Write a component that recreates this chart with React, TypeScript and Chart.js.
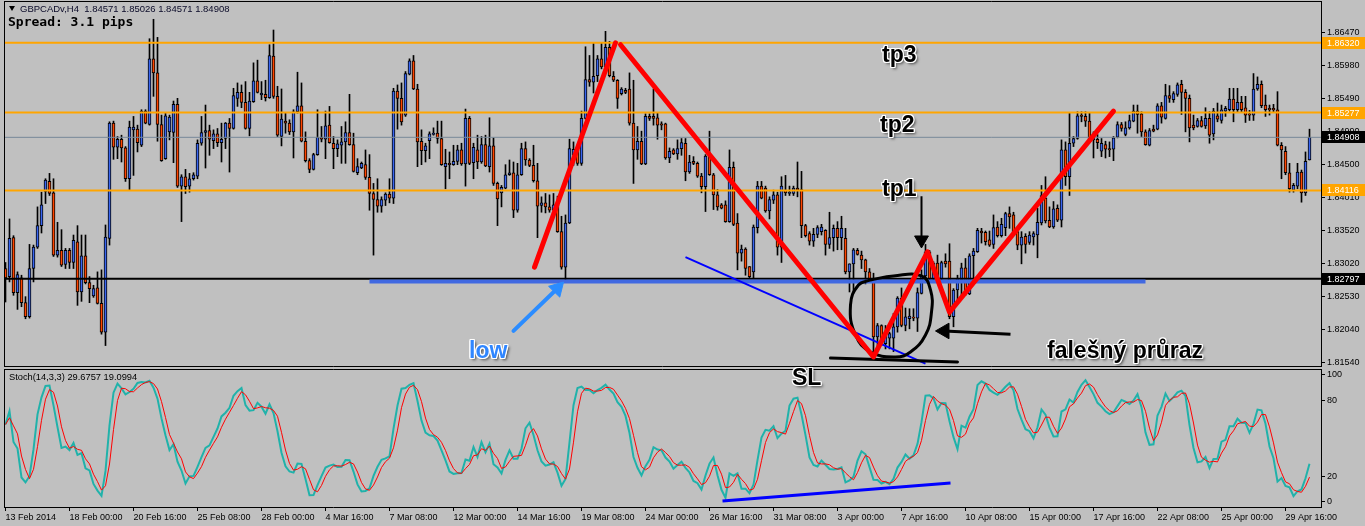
import React, { useEffect, useRef } from "react";
import { Chart, registerables } from "chart.js";
Chart.register(...registerables);

// ---- GBPCADv, H4 candles (13 Feb 2014 -> 29 Apr 2014) ----
const OPEN = [
1.8295,1.8283,1.8341,1.8259,1.8281,1.8244,1.8223,1.8295,1.8327,1.8359,
1.8410,1.8425,1.8408,1.8315,1.8322,1.8301,1.8322,1.8304,1.8335,1.8260,
1.8314,1.8274,1.8254,1.8266,1.8243,1.8200,1.8340,1.8512,1.8476,1.8488,
1.8475,1.8429,1.8502,1.8503,1.8479,1.8530,1.8510,1.8608,1.8587,1.8510,
1.8459,1.8499,1.8498,1.8540,1.8418,1.8432,1.8418,1.8429,1.8433,1.8482,
1.8498,1.8501,1.8486,1.8496,1.8483,1.8489,1.8512,1.8504,1.8549,1.8558,
1.8543,1.8504,1.8544,1.8575,1.8554,1.8555,1.8550,1.8612,1.8552,1.8492,
1.8515,1.8512,1.8499,1.8529,1.8538,1.8485,1.8456,1.8443,1.8465,1.8491,
1.8488,1.8509,1.8482,1.8474,1.8479,1.8484,1.8498,1.8480,1.8438,1.8445,
1.8450,1.8431,1.8407,1.8398,1.8388,1.8397,1.8406,1.8400,1.8560,1.8549,
1.8524,1.8585,1.8605,1.8563,1.8485,1.8471,1.8486,1.8495,1.8497,1.8489,
1.8447,1.8452,1.8450,1.8455,1.8472,1.8451,1.8519,1.8453,1.8472,1.8454,
1.8480,1.8447,1.8478,1.8422,1.8408,1.8415,1.8435,1.8438,1.8382,1.8435,
1.8474,1.8457,1.8449,1.8426,1.8389,1.8393,1.8387,1.8382,1.8390,1.8350,
1.8297,1.8363,1.8464,1.8472,1.8452,1.8519,1.8577,1.8573,1.8583,1.8608,
1.8596,1.8625,1.8582,1.8576,1.8556,1.8561,1.8563,1.8512,1.8472,1.8485,
1.8451,1.8522,1.8522,1.8520,1.8511,1.8511,1.8460,1.8472,1.8466,1.8474,
1.8482,1.8439,1.8455,1.8452,1.8433,1.8417,1.8463,1.8435,1.8405,1.8390,
1.8390,1.8365,1.8446,1.8363,1.8318,1.8324,1.8298,1.8290,1.8356,1.8418,
1.8415,1.8381,1.8397,1.8405,1.8327,1.8412,1.8407,1.8407,1.8415,1.8413,
1.8359,1.8347,1.8336,1.8346,1.8350,1.8352,1.8331,1.8341,1.8355,1.8341,
1.8340,1.8290,1.8302,1.8322,1.8315,1.8308,1.8290,1.8280,1.8193,1.8210,
1.8183,1.8191,1.8191,1.8208,1.8251,1.8210,1.8220,1.8222,1.8221,1.8258,
1.8284,1.8320,1.8280,1.8303,1.8280,1.8306,1.8306,1.8223,1.8263,1.8278,
1.8296,1.8257,1.8314,1.8320,1.8351,1.8349,1.8338,1.8331,1.8357,1.8344,
1.8356,1.8377,1.8375,1.8350,1.8330,1.8343,1.8334,1.8342,1.8345,1.8363,
1.8400,1.8367,1.8357,1.8385,1.8367,1.8472,1.8432,1.8482,1.8489,1.8524,
1.8522,1.8515,1.8487,1.8488,1.8470,1.8480,1.8474,1.8473,1.8491,1.8510,
1.8495,1.8505,1.8515,1.8530,1.8526,1.8499,1.8479,1.8503,1.8503,1.8538,
1.8519,1.8553,1.8547,1.8555,1.8570,1.8558,1.8549,1.8509,1.8507,1.8516,
1.8508,1.8519,1.8496,1.8523,1.8516,1.8530,1.8532,1.8548,1.8532,1.8543,
1.8535,1.8526,1.8524,1.8563,1.8570,1.8539,1.8534,1.8534,1.8532,1.8479,
1.8470,1.8438,1.8412,1.8418,1.8439,1.8408,1.8457
];
const HIGH = [
1.8304,1.8369,1.8344,1.8290,1.8285,1.8253,1.8331,1.8330,1.8387,1.8409,
1.8429,1.8437,1.8429,1.8364,1.8353,1.8325,1.8325,1.8345,1.8359,1.8345,
1.8345,1.8283,1.8270,1.8290,1.8293,1.8360,1.8514,1.8515,1.8492,1.8494,
1.8477,1.8515,1.8522,1.8509,1.8532,1.8532,1.8638,1.8667,1.8640,1.8524,
1.8527,1.8524,1.8545,1.8549,1.8435,1.8443,1.8437,1.8438,1.8487,1.8522,
1.8539,1.8509,1.8502,1.8504,1.8512,1.8513,1.8519,1.8564,1.8572,1.8569,
1.8574,1.8558,1.8602,1.8606,1.8574,1.8576,1.8629,1.8651,1.8567,1.8563,
1.8527,1.8517,1.8532,1.8588,1.8572,1.8499,1.8459,1.8467,1.8532,1.8507,
1.8530,1.8537,1.8492,1.8487,1.8507,1.8514,1.8555,1.8497,1.8459,1.8454,
1.8472,1.8465,1.8422,1.8429,1.8402,1.8408,1.8429,1.8564,1.8569,1.8572,
1.8589,1.8608,1.8613,1.8570,1.8502,1.8482,1.8499,1.8505,1.8515,1.8515,
1.8473,1.8469,1.8479,1.8479,1.8482,1.8533,1.8522,1.8482,1.8494,1.8492,
1.8494,1.8520,1.8490,1.8424,1.8419,1.8450,1.8457,1.8454,1.8452,1.8482,
1.8484,1.8459,1.8479,1.8452,1.8402,1.8407,1.8405,1.8407,1.8403,1.8373,
1.8375,1.8488,1.8484,1.8474,1.8530,1.8626,1.8613,1.8631,1.8613,1.8632,
1.8649,1.8634,1.8589,1.8577,1.8565,1.8564,1.8587,1.8576,1.8507,1.8500,
1.8526,1.8526,1.8563,1.8528,1.8514,1.8512,1.8475,1.8474,1.8487,1.8489,
1.8489,1.8464,1.8462,1.8454,1.8437,1.8465,1.8500,1.8437,1.8413,1.8392,
1.8396,1.8472,1.8454,1.8377,1.8330,1.8326,1.8298,1.8360,1.8425,1.8425,
1.8418,1.8402,1.8412,1.8409,1.8432,1.8434,1.8418,1.8418,1.8454,1.8440,
1.8361,1.8350,1.8355,1.8359,1.8361,1.8353,1.8379,1.8360,1.8365,1.8373,
1.8355,1.8302,1.8325,1.8325,1.8321,1.8309,1.8295,1.8288,1.8213,1.8211,
1.8210,1.8200,1.8228,1.8253,1.8266,1.8236,1.8235,1.8235,1.8266,1.8293,
1.8331,1.8322,1.8305,1.8315,1.8306,1.8317,1.8332,1.8265,1.8285,1.8303,
1.8310,1.8317,1.8325,1.8355,1.8355,1.8351,1.8351,1.8375,1.8365,1.8370,
1.8379,1.8387,1.8379,1.8355,1.8350,1.8347,1.8350,1.8350,1.8385,1.8419,
1.8432,1.8387,1.8395,1.8390,1.8487,1.8484,1.8527,1.8492,1.8529,1.8529,
1.8529,1.8528,1.8499,1.8495,1.8489,1.8485,1.8484,1.8492,1.8514,1.8513,
1.8514,1.8524,1.8539,1.8539,1.8529,1.8502,1.8504,1.8509,1.8541,1.8543,
1.8570,1.8568,1.8559,1.8572,1.8576,1.8562,1.8554,1.8524,1.8519,1.8522,
1.8535,1.8529,1.8534,1.8542,1.8539,1.8537,1.8564,1.8564,1.8564,1.8552,
1.8552,1.8531,1.8586,1.8581,1.8575,1.8554,1.8539,1.8540,1.8559,1.8483,
1.8477,1.8452,1.8422,1.8452,1.8442,1.8469,1.8503
];
const LOW = [
1.8245,1.8275,1.8255,1.8234,1.8238,1.8220,1.8221,1.8275,1.8325,1.8348,
1.8392,1.8404,1.8313,1.8312,1.8298,1.8295,1.8295,1.8295,1.8240,1.8246,
1.8272,1.8244,1.8252,1.8242,1.8197,1.8180,1.8330,1.8458,1.8459,1.8454,
1.8425,1.8412,1.8434,1.8469,1.8477,1.8511,1.8509,1.8552,1.8485,1.8455,
1.8458,1.8487,1.8453,1.8416,1.8365,1.8407,1.8409,1.8427,1.8429,1.8479,
1.8445,1.8464,1.8474,1.8477,1.8454,1.8474,1.8439,1.8503,1.8537,1.8535,
1.8503,1.8493,1.8543,1.8557,1.8547,1.8545,1.8549,1.8549,1.8492,1.8478,
1.8497,1.8495,1.8460,1.8527,1.8484,1.8454,1.8438,1.8442,1.8464,1.8484,
1.8459,1.8482,1.8444,1.8462,1.8452,1.8452,1.8479,1.8439,1.8435,1.8444,
1.8428,1.8382,1.8315,1.8379,1.8379,1.8389,1.8393,1.8392,1.8503,1.8509,
1.8522,1.8584,1.8562,1.8447,1.8450,1.8454,1.8459,1.8494,1.8482,1.8449,
1.8414,1.8429,1.8449,1.8450,1.8449,1.8418,1.8450,1.8429,1.8444,1.8452,
1.8447,1.8439,1.8419,1.8359,1.8387,1.8414,1.8434,1.8371,1.8379,1.8434,
1.8449,1.8447,1.8424,1.8341,1.8379,1.8378,1.8379,1.8378,1.8349,1.8294,
1.8277,1.8362,1.8449,1.8449,1.8449,1.8518,1.8567,1.8557,1.8574,1.8593,
1.8595,1.8581,1.8574,1.8534,1.8554,1.8556,1.8509,1.8422,1.8458,1.8450,
1.8450,1.8516,1.8509,1.8488,1.8502,1.8458,1.8453,1.8465,1.8458,1.8464,
1.8426,1.8437,1.8450,1.8431,1.8408,1.8380,1.8434,1.8383,1.8382,1.8384,
1.8364,1.8364,1.8359,1.8293,1.8306,1.8285,1.8280,1.8280,1.8348,1.8399,
1.8379,1.8369,1.8392,1.8315,1.8304,1.8404,1.8404,1.8404,1.8402,1.8341,
1.8342,1.8330,1.8328,1.8341,1.8345,1.8315,1.8325,1.8321,1.8323,1.8323,
1.8287,1.8260,1.8260,1.8315,1.8295,1.8272,1.8275,1.8164,1.8171,1.8180,
1.8175,1.8175,1.8171,1.8200,1.8208,1.8202,1.8205,1.8217,1.8201,1.8257,
1.8280,1.8275,1.8275,1.8275,1.8275,1.8297,1.8220,1.8208,1.8245,1.8255,
1.8255,1.8256,1.8280,1.8319,1.8333,1.8330,1.8328,1.8325,1.8342,1.8342,
1.8344,1.8355,1.8345,1.8323,1.8302,1.8318,1.8331,1.8330,1.8311,1.8360,
1.8363,1.8356,1.8355,1.8365,1.8357,1.8419,1.8404,1.8477,1.8488,1.8514,
1.8507,1.8484,1.8460,1.8474,1.8462,1.8460,1.8462,1.8456,1.8490,1.8500,
1.8493,1.8503,1.8514,1.8497,1.8492,1.8479,1.8478,1.8499,1.8502,1.8512,
1.8518,1.8543,1.8543,1.8552,1.8525,1.8499,1.8484,1.8502,1.8506,1.8506,
1.8504,1.8482,1.8487,1.8514,1.8512,1.8522,1.8530,1.8514,1.8529,1.8529,
1.8513,1.8516,1.8516,1.8561,1.8535,1.8522,1.8524,1.8529,1.8478,1.8429,
1.8435,1.8409,1.8409,1.8414,1.8394,1.8404,1.8457
];
const CLOSE = [
1.8281,1.8340,1.8259,1.8286,1.8244,1.8223,1.8295,1.8327,1.8359,1.8390,
1.8427,1.8407,1.8315,1.8322,1.8300,1.8322,1.8304,1.8337,1.8260,1.8314,
1.8274,1.8265,1.8265,1.8243,1.8200,1.8342,1.8512,1.8476,1.8488,1.8475,
1.8429,1.8506,1.8506,1.8483,1.8530,1.8512,1.8608,1.8587,1.8510,1.8456,
1.8523,1.8521,1.8540,1.8418,1.8432,1.8417,1.8429,1.8435,1.8482,1.8498,
1.8501,1.8488,1.8496,1.8483,1.8488,1.8512,1.8504,1.8553,1.8558,1.8543,
1.8504,1.8545,1.8575,1.8558,1.8557,1.8550,1.8613,1.8552,1.8494,1.8518,
1.8512,1.8499,1.8529,1.8538,1.8485,1.8456,1.8443,1.8465,1.8491,1.8488,
1.8508,1.8483,1.8474,1.8481,1.8484,1.8498,1.8480,1.8440,1.8447,1.8452,
1.8431,1.8407,1.8398,1.8388,1.8398,1.8406,1.8400,1.8560,1.8549,1.8514,
1.8586,1.8605,1.8563,1.8484,1.8471,1.8478,1.8496,1.8497,1.8489,1.8450,
1.8452,1.8450,1.8455,1.8472,1.8451,1.8519,1.8452,1.8476,1.8454,1.8480,
1.8448,1.8478,1.8422,1.8399,1.8416,1.8435,1.8438,1.8382,1.8435,1.8474,
1.8457,1.8449,1.8426,1.8388,1.8393,1.8387,1.8382,1.8390,1.8350,1.8297,
1.8363,1.8474,1.8473,1.8452,1.8519,1.8577,1.8573,1.8582,1.8608,1.8596,
1.8625,1.8583,1.8576,1.8549,1.8563,1.8558,1.8512,1.8472,1.8485,1.8451,
1.8522,1.8519,1.8519,1.8509,1.8509,1.8460,1.8470,1.8466,1.8474,1.8483,
1.8439,1.8454,1.8452,1.8433,1.8417,1.8463,1.8435,1.8405,1.8387,1.8385,
1.8365,1.8446,1.8361,1.8318,1.8324,1.8295,1.8283,1.8357,1.8418,1.8400,
1.8381,1.8398,1.8405,1.8327,1.8418,1.8408,1.8409,1.8415,1.8412,1.8359,
1.8344,1.8336,1.8346,1.8356,1.8357,1.8331,1.8341,1.8355,1.8341,1.8355,
1.8290,1.8302,1.8323,1.8316,1.8308,1.8290,1.8280,1.8193,1.8210,1.8183,
1.8200,1.8198,1.8208,1.8251,1.8210,1.8223,1.8224,1.8221,1.8259,1.8284,
1.8320,1.8280,1.8303,1.8280,1.8304,1.8302,1.8223,1.8263,1.8280,1.8296,
1.8257,1.8314,1.8321,1.8352,1.8348,1.8335,1.8330,1.8356,1.8344,1.8361,
1.8377,1.8372,1.8350,1.8330,1.8342,1.8331,1.8345,1.8347,1.8364,1.8404,
1.8366,1.8357,1.8384,1.8367,1.8472,1.8432,1.8482,1.8489,1.8523,1.8522,
1.8515,1.8488,1.8492,1.8483,1.8482,1.8473,1.8472,1.8490,1.8510,1.8504,
1.8505,1.8516,1.8530,1.8525,1.8499,1.8480,1.8501,1.8500,1.8538,1.8521,
1.8553,1.8549,1.8556,1.8569,1.8558,1.8549,1.8505,1.8505,1.8516,1.8507,
1.8519,1.8494,1.8530,1.8518,1.8532,1.8534,1.8548,1.8532,1.8543,1.8532,
1.8524,1.8524,1.8563,1.8570,1.8538,1.8532,1.8532,1.8532,1.8479,1.8472,
1.8438,1.8414,1.8419,1.8439,1.8408,1.8455,1.8491
];

// one time label every 16 candles
const TIME_LABELS = [
  "13 Feb 2014", "18 Feb 00:00", "20 Feb 16:00", "25 Feb 08:00", "28 Feb 00:00",
  "4 Mar 16:00", "7 Mar 08:00", "12 Mar 00:00", "14 Mar 16:00", "19 Mar 08:00",
  "24 Mar 00:00", "26 Mar 16:00", "31 Mar 08:00", "3 Apr 00:00", "7 Apr 16:00",
  "10 Apr 08:00", "15 Apr 00:00", "17 Apr 16:00", "22 Apr 08:00", "25 Apr 00:00",
  "29 Apr 16:00"
];
const PRICE_TICKS = [1.8647, 1.8598, 1.8549, 1.8499, 1.8450, 1.8401, 1.8352, 1.8302, 1.8253, 1.8204, 1.8154];
const STOCH_TICKS = [100, 80, 20, 0];

// horizontal levels
const TP_LEVELS = [1.8632, 1.85277, 1.84116];
const LOW_LEVEL = 1.82797;
const BID_LEVEL = 1.84908;

// hand-drawn annotations (candle index, price)
const ZIGZAG_UP = [[132.25, 1.8297], [152.5, 1.8632]];
const ZIGZAG_DOWN_UP = [[153.75, 1.8629], [217, 1.8163], [230.5, 1.8320], [236, 1.8230], [277, 1.8530]];
const PRICE_TRENDLINE = [[170, 1.8312], [230, 1.8153]];
const SUPPORT_BAND = [[91, 1.82755], [285, 1.82755]];
const SL_LINE = [[206.25, 1.81615], [238, 1.81555]];
const CIRCLE = [
  [216.25, 1.82779], [222, 1.82839], [229, 1.82839], [231.25, 1.8263], [231.5, 1.82301],
  [230, 1.81958], [226.25, 1.81704], [222.5, 1.8163], [216.25, 1.81704], [212.5, 1.81958],
  [211.25, 1.82406], [213.25, 1.82704], [216.25, 1.82779]
];
const DOWN_ARROW = [[229, 1.8403], [229, 1.83376]];
const LEFT_ARROW = [[251.25, 1.8197], [234.75, 1.82018]];
const LOW_ARROW = [[127, 1.8202], [137.95, 1.82652]];
const STOCH_TRENDLINE = [[179.25, 0.8], [236.25, 15]];

const X_MIN = -0.375;
const X_MAX = 328.875;
const PRICE_MIN = 1.81495;
const PRICE_MAX = 1.86943;
const STOCH_MIN = -3.94;
const STOCH_MAX = 104.7;

const AXIS_FONT = { family: "'Liberation Sans', Arial, sans-serif", size: 9 };

const pts = (arr: number[][]) => arr.map(([x, y]) => ({ x, y }));

function computeStoch(n: number, kPeriod: number, slowing: number, dPeriod: number) {
  const num: number[] = [];
  const den: number[] = [];
  for (let i = 0; i < n; i++) {
    let hh = -Infinity, ll = Infinity;
    for (let j = Math.max(0, i - kPeriod + 1); j <= i; j++) {
      if (HIGH[j] > hh) hh = HIGH[j];
      if (LOW[j] < ll) ll = LOW[j];
    }
    num.push(CLOSE[i] - ll);
    den.push(hh - ll);
  }
  const main: number[] = [];
  for (let i = 0; i < n; i++) {
    let a = 0, b = 0;
    for (let j = Math.max(0, i - slowing + 1); j <= i; j++) { a += num[j]; b += den[j]; }
    main.push(b === 0 ? 100 : (100 * a) / b);
  }
  const signal: number[] = [];
  for (let i = 0; i < n; i++) {
    let s = 0, c = 0;
    for (let j = Math.max(0, i - dPeriod + 1); j <= i; j++) { s += main[j]; c++; }
    signal.push(s / c);
  }
  return { main, signal };
}

const lineDs = (data: any[], color: string, width: number, order: number, extra: any = {}) => ({
  type: "line",
  data,
  borderColor: color,
  backgroundColor: color,
  borderWidth: width,
  pointRadius: 0,
  fill: false,
  tension: 0,
  order,
  ...extra,
});

const paneFrame = (bottomLine: boolean) => ({
  id: "paneFrame" + (bottomLine ? "B" : ""),
  afterDraw(chart: any) {
    const { ctx, chartArea: a } = chart;
    ctx.save();
    ctx.strokeStyle = "#000";
    ctx.lineWidth = 1;
    ctx.beginPath();
    ctx.moveTo(a.left + 0.5, a.top);
    ctx.lineTo(a.left + 0.5, a.bottom + 1);
    ctx.moveTo(a.left, a.top + 0.5);
    ctx.lineTo(a.right, a.top + 0.5);
    if (bottomLine) {
      ctx.moveTo(a.left, a.bottom + 0.5);
      ctx.lineTo(a.right, a.bottom + 0.5);
    }
    ctx.stroke();
    ctx.restore();
  },
});

const levelLabels = {
  id: "levelLabels",
  afterDraw(chart: any) {
    const { ctx } = chart;
    const y = chart.scales.y;
    const items = [
      ...TP_LEVELS.map((v) => ({ v, bg: "#FFA500" })),
      { v: BID_LEVEL, bg: "#000000" },
      { v: LOW_LEVEL, bg: "#000000" },
    ];
    ctx.save();
    ctx.font = "9px 'Liberation Sans', Arial, sans-serif";
    ctx.textBaseline = "middle";
    ctx.textAlign = "left";
    items.forEach(({ v, bg }) => {
      const py = Math.round(y.getPixelForValue(v));
      ctx.fillStyle = bg;
      ctx.fillRect(y.left + 1, py - 6, 44, 12);
      ctx.fillStyle = "#ffffff";
      ctx.fillText(v.toFixed(5), y.left + 6, py + 0.5);
    });
    ctx.restore();
  },
};

const NOTE_SHADOW =
  "-1px -1px 0 #fff, 1px -1px 0 #fff, -1px 1px 0 #fff, 1px 1px 0 #fff, 0 -1px 0 #fff, 0 1px 0 #fff, -1px 0 0 #fff, 1px 0 0 #fff, 2px 2px 3px rgba(0,0,0,0.65)";

const NOTES = [
  { text: "tp3", left: 882, top: 42.5, color: "#000" },
  { text: "tp2", left: 880, top: 113, color: "#000" },
  { text: "tp1", left: 882, top: 176.5, color: "#000" },
  { text: "low", left: 469, top: 338.5, color: "#2f86ff" },
  { text: "SL", left: 792, top: 365.5, color: "#000" },
  { text: "falešný průraz", left: 1047, top: 338.5, color: "#000" },
];

export default function App() {
  const priceRef = useRef<HTMLCanvasElement>(null);
  const stochRef = useRef<HTMLCanvasElement>(null);

  useEffect(() => {
    document.body.style.margin = "0";
    const n = Math.min(OPEN.length, HIGH.length, LOW.length, CLOSE.length);
    const idx = Array.from({ length: n }, (_, i) => i);
    const wicks = idx.map((i) => ({ x: i, y: [LOW[i], HIGH[i]] }));
    const bodies = idx.map((i) => ({ x: i, y: [OPEN[i], CLOSE[i]] }));
    const bodyColors = idx.map((i) => (CLOSE[i] >= OPEN[i] ? "#3A66F0" : "#FF4500"));
    const hLine = (v: number) => [{ x: X_MIN, y: v }, { x: X_MAX, y: v }];

    const priceChart = new Chart(priceRef.current as HTMLCanvasElement, {
      type: "bar",
      data: {
        datasets: [
          { type: "bar", data: wicks, backgroundColor: "#000", barThickness: 1, grouped: false, order: 11, borderWidth: 0 },
          {
            type: "bar", data: bodies, backgroundColor: bodyColors, borderColor: "#000", borderWidth: 1,
            borderSkipped: false, barThickness: 3, minBarLength: 1, grouped: false, order: 10,
          },
          lineDs(hLine(BID_LEVEL), "#778899", 1, 6),
          ...TP_LEVELS.map((v) => lineDs(hLine(v), "#FFA500", 2, 5)),
          lineDs(hLine(LOW_LEVEL), "#000000", 2, 5),
          lineDs(pts(SUPPORT_BAND), "#4169E1", 4, 4),
          lineDs(pts(PRICE_TRENDLINE), "#0000FF", 2, 3),
          lineDs(pts(CIRCLE), "#000000", 3, 2, { tension: 0.45, borderCapStyle: "round", borderJoinStyle: "round" }),
          lineDs(pts(SL_LINE), "#000000", 3, 2, { borderCapStyle: "round" }),
          lineDs(pts(ZIGZAG_UP), "#FF0000", 5, 1, { borderCapStyle: "round", borderJoinStyle: "round" }),
          lineDs(pts(ZIGZAG_DOWN_UP), "#FF0000", 5, 1, { borderCapStyle: "round", borderJoinStyle: "round" }),
          lineDs(pts(DOWN_ARROW), "#000000", 2, 0, {
            pointRadius: [0, 8], pointStyle: "triangle", pointRotation: 180,
            pointBackgroundColor: "#000", pointBorderColor: "#000", pointBorderWidth: 1,
          }),
          lineDs(pts(LEFT_ARROW), "#000000", 3, 0, {
            pointRadius: [0, 9], pointStyle: "triangle", pointRotation: 270,
            pointBackgroundColor: "#000", pointBorderColor: "#000", pointBorderWidth: 1,
          }),
          lineDs(pts(LOW_ARROW), "#2b8cff", 4, 0, {
            borderCapStyle: "round",
            pointRadius: [0, 9], pointStyle: "triangle", pointRotation: 44,
            pointBackgroundColor: "#2b8cff", pointBorderColor: "#2b8cff", pointBorderWidth: 1,
          }),
        ],
      },
      options: {
        responsive: false,
        animation: false,
        events: [],
        layout: { autoPadding: false, padding: { left: 4, right: 0, top: 1, bottom: 2 } },
        plugins: { legend: { display: false }, tooltip: { enabled: false } },
        scales: {
          x: { type: "linear", min: X_MIN, max: X_MAX, display: false, offset: false, grid: { offset: false } },
          y: {
            position: "right",
            min: PRICE_MIN,
            max: PRICE_MAX,
            afterBuildTicks: (s: any) => { s.ticks = PRICE_TICKS.map((v) => ({ value: v })); },
            afterFit: (s: any) => { s.width = 44; s.paddingTop = 0; s.paddingBottom = 0; },
            ticks: { autoSkip: false, padding: 2, font: AXIS_FONT, color: "#000", callback: (v: any) => Number(v).toFixed(5) },
            grid: { drawOnChartArea: false, drawTicks: true, tickLength: 4, color: "#000" },
            border: { display: true, color: "#000", width: 1 },
          },
        },
      } as any,
      plugins: [paneFrame(true), levelLabels],
    } as any);

    const { main, signal } = computeStoch(n, 14, 3, 3);
    const stochChart = new Chart(stochRef.current as HTMLCanvasElement, {
      type: "line",
      data: {
        datasets: [
          lineDs(main.map((v, i) => ({ x: i, y: v })), "#20B2AA", 2, 2),
          lineDs(signal.map((v, i) => ({ x: i, y: v })), "#FF0000", 1, 1),
          lineDs(pts(STOCH_TRENDLINE), "#0000FF", 3, 0),
        ],
      },
      options: {
        responsive: false,
        animation: false,
        events: [],
        layout: { autoPadding: false, padding: { left: 4, right: 0, top: 1, bottom: 0 } },
        plugins: { legend: { display: false }, tooltip: { enabled: false } },
        scales: {
          x: {
            type: "linear", min: X_MIN, max: X_MAX, offset: false,
            afterBuildTicks: (s: any) => { s.ticks = TIME_LABELS.map((_, k) => ({ value: k * 16 })); },
            afterFit: (s: any) => { s.height = 19; s.paddingLeft = 0; s.paddingRight = 0; },
            ticks: {
              autoSkip: false, maxRotation: 0, minRotation: 0, align: "start", padding: 1,
              font: AXIS_FONT, color: "#000", callback: (_v: any, i: number) => TIME_LABELS[i],
            },
            grid: { drawOnChartArea: false, drawTicks: true, tickLength: 4, color: "#000", offset: false },
            border: { display: true, color: "#000", width: 1 },
          },
          y: {
            position: "right",
            min: STOCH_MIN,
            max: STOCH_MAX,
            afterBuildTicks: (s: any) => { s.ticks = STOCH_TICKS.map((v) => ({ value: v })); },
            afterFit: (s: any) => { s.width = 44; s.paddingTop = 0; s.paddingBottom = 0; },
            ticks: { autoSkip: false, padding: 2, font: AXIS_FONT, color: "#000", callback: (v: any) => String(v) },
            grid: { drawOnChartArea: false, drawTicks: true, tickLength: 4, color: "#000" },
            border: { display: true, color: "#000", width: 1 },
          },
        },
      } as any,
      plugins: [paneFrame(false)],
    } as any);

    return () => {
      priceChart.destroy();
      stochChart.destroy();
    };
  }, []);

  return (
    <div
      style={{
        position: "relative",
        width: 1365,
        height: 526,
        background: "#C0C0C0",
        overflow: "hidden",
        fontFamily: "'Liberation Sans', Arial, sans-serif",
      }}
    >
      <canvas ref={priceRef} width={1365} height={368} style={{ position: "absolute", left: 0, top: 0 }} />
      <canvas ref={stochRef} width={1365} height={158} style={{ position: "absolute", left: 0, top: 368 }} />

      <div
        style={{
          position: "absolute", left: 9, top: 6, width: 0, height: 0,
          borderLeft: "3.5px solid transparent", borderRight: "3.5px solid transparent", borderTop: "5px solid #000",
        }}
      />
      <div
        style={{
          position: "absolute", left: 20, top: 4, fontSize: 9.5, lineHeight: "9.5px",
          color: "#0a0a28", whiteSpace: "pre",
        }}
      >
        GBPCADv,H4  1.84571 1.85026 1.84571 1.84908
      </div>
      <div
        style={{
          position: "absolute", left: 8, top: 15, fontSize: 13, lineHeight: "13px", fontWeight: 700,
          fontFamily: "'DejaVu Sans Mono', 'Liberation Mono', monospace", color: "#000", whiteSpace: "pre",
        }}
      >
        Spread: 3.1 pips
      </div>
      <div
        style={{
          position: "absolute", left: 9, top: 373, fontSize: 9.3, lineHeight: "9.3px",
          color: "#000", whiteSpace: "pre",
        }}
      >
        Stoch(14,3,3) 29.6757 19.0994
      </div>

      {NOTES.map((n) => (
        <div
          key={n.text}
          style={{
            position: "absolute", left: n.left, top: n.top, fontSize: 23, lineHeight: "23px",
            fontWeight: 700, color: n.color, textShadow: NOTE_SHADOW, whiteSpace: "nowrap",
          }}
        >
          {n.text}
        </div>
      ))}
    </div>
  );
}
